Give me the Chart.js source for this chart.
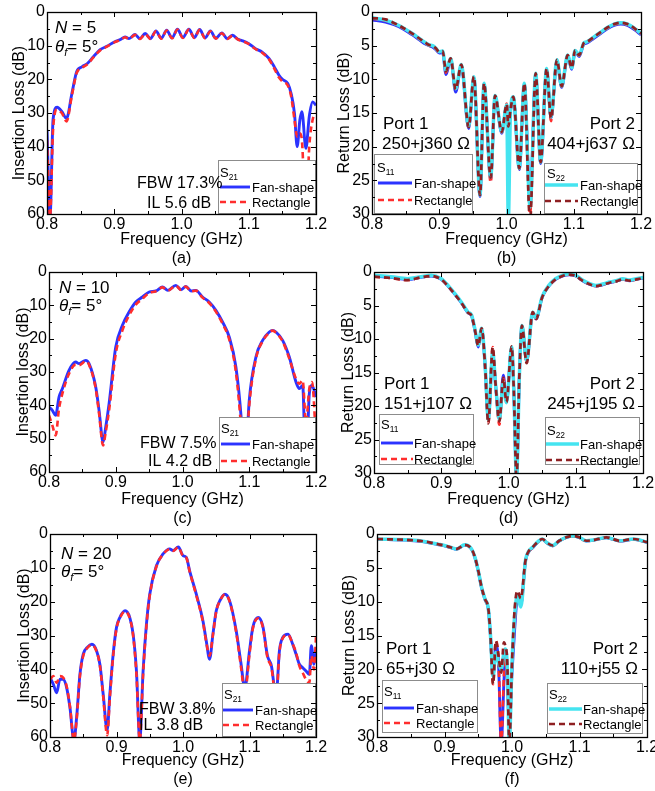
<!DOCTYPE html>
<html><head><meta charset="utf-8">
<script src="https://cdn.jsdelivr.net/npm/chart.js@4.4.1/dist/chart.umd.min.js"></script>
<style>
html,body{margin:0;padding:0;background:#fff;width:655px;height:791px;overflow:hidden;position:relative}
canvas{position:absolute}
</style></head><body>
<canvas id="ca"></canvas><canvas id="cb"></canvas>
<canvas id="cc"></canvas><canvas id="cd"></canvas>
<canvas id="ce"></canvas><canvas id="cf"></canvas>
<script>
// ---------------- DATA ----------------
const xTicks = [0.8, 0.9, 1.0, 1.1, 1.2];

// (a) N = 5, S21
const freqA = [0.800,0.8045,0.809,0.815,0.822,0.829,0.837,0.844,0.852,0.860,0.869,0.879,0.889,0.900,0.910,0.916,0.922,0.931,0.938,0.946,0.954,0.962,0.970,0.978,0.986,0.994,1.002,1.011,1.019,1.027,1.035,1.043,1.051,1.060,1.068,1.076,1.084,1.090,1.100,1.110,1.120,1.130,1.138,1.145,1.150,1.158,1.163,1.168,1.172,1.176,1.179,1.185,1.190,1.195,1.200];
const ilA_fan  = [35,61,32,28.3,29.5,31.6,24.2,17.8,16.3,15.3,13.3,11.2,10.2,8.9,8.1,7.4,7.9,6.7,7.9,6.4,7.9,5.6,7.8,5.4,7.7,5.1,7.6,5.1,7.6,5.2,7.7,5.6,7.8,6.2,7.9,6.9,8.1,8.5,9.4,10.9,11.9,13.8,16.3,18.8,20,21.2,24.2,30.1,40,32.1,29.6,40.5,31,26.7,27.7];
const ilA_rect = [38,61,35,29,30,32.5,24.8,18.2,16.6,15.5,13.5,11.4,10.3,9.0,8.2,7.5,8.0,6.8,8.0,6.5,8.0,5.7,7.9,5.5,7.8,5.2,7.7,5.2,7.7,5.3,7.8,5.7,7.9,6.3,8.0,7.0,8.2,8.6,9.5,11.0,12.1,14.0,16.8,19.5,20.6,21.8,25,32,37,36,38,61,40,32,30];

// (b) N = 5, S11 / S22
const freqB = [0.800,0.820,0.840,0.860,0.870,0.880,0.885,0.890,0.895,0.900,0.905,0.910,0.917,0.9244,0.9328,0.9437,0.9515,0.9606,0.9666,0.9765,0.983,0.993,1.0003,1.0027,1.006,1.0101,1.019,1.0265,1.035,1.0434,1.0508,1.0597,1.0662,1.075,1.082,1.091,1.097,1.102,1.108,1.115,1.120,1.130,1.140,1.150,1.160,1.170,1.180,1.190,1.200];
const rlB_s11fan  = [1.2,1.5,2.2,3.4,4.1,4.8,5.0,5.2,5.6,6.1,6.0,9.3,7.0,11.9,8.0,17.3,9.8,27.4,10.8,24.8,12.6,18.0,13.9,16.5,14.6,12.8,23.4,10.8,28,9.3,22.5,8.6,15.8,7.3,11.2,6.6,8.5,5.9,6.6,4.8,4.6,3.9,3.2,2.5,2.0,1.8,2.0,2.6,3.4];
const rlB_s11rect = [1.0,1.3,2.1,3.3,4.0,4.7,5.0,5.1,5.5,6.0,5.9,9.0,6.9,11.6,7.9,17.2,9.7,27.3,10.7,25.3,12.5,17.9,13.6,16.0,14.5,12.6,23.3,10.7,30,9.2,22.4,8.5,16.2,7.2,11.1,6.5,8.4,5.8,6.5,4.7,4.5,3.8,3.1,2.4,1.9,1.7,1.9,2.5,3.3];
const rlB_s22fan  = [0.85,1.2,2.0,3.2,3.9,4.6,4.9,5.0,5.4,5.9,5.8,8.7,6.9,11.4,7.8,17.0,9.6,27.2,10.6,24.5,12.4,17.8,13.8,31,14.5,12.6,23.2,10.6,29,9.1,22.3,8.4,15.6,7.1,11.0,6.4,8.3,5.7,6.4,4.6,4.4,3.7,3.0,2.3,1.8,1.6,1.8,2.4,3.2];
const rlB_s22rect = [0.9,1.1,2.0,3.2,3.9,4.6,4.9,5.0,5.4,5.9,5.8,8.8,6.9,11.5,7.8,17.1,9.6,27.2,10.6,24.6,12.4,17.8,13.7,17.0,14.5,12.6,23.2,10.6,31,9.1,22.3,8.4,15.8,7.1,11.0,6.4,8.3,5.7,6.4,4.6,4.4,3.7,3.0,2.3,1.8,1.6,1.8,2.4,3.2];

// (c) N = 10, S21
const freqC = [0.800,0.805,0.810,0.815,0.820,0.830,0.840,0.845,0.855,0.860,0.870,0.875,0.881,0.885,0.890,0.900,0.910,0.920,0.930,0.940,0.950,0.960,0.970,0.978,0.990,0.998,1.005,1.013,1.020,1.030,1.040,1.050,1.060,1.070,1.080,1.088,1.093,1.100,1.110,1.120,1.130,1.135,1.140,1.150,1.160,1.170,1.175,1.180,1.185,1.190,1.194,1.200];
const ilC_fan  = [40.5,41.5,43,37.5,35,29.5,27,27.5,26.5,27.5,34.5,41.5,51,46.5,39.5,22.5,16,12,9,7.5,6,5.7,4.5,5.5,4.0,5.3,4.3,5.7,5.5,7.5,9,11.5,15,19.5,28.5,44,61,38.5,25.5,20.5,18,17.5,18,20.5,25.5,33,35,34,61,36.5,34,37.5];
const ilC_rect = [43,46,49,41,36.5,30.5,27.8,28,26.8,27.8,35,42.5,52,48,41.5,24.5,17.5,13,9.8,8.0,6.3,5.8,4.6,5.6,4.1,5.4,4.4,5.8,5.6,7.7,9.3,11.9,15.5,20.2,30,47,61,40,26,20.8,18.2,17.6,18.2,20.8,26,32,33.5,32.5,45,35,33,50];

// (d) N = 10, S11 / S22
const freqD = [0.800,0.825,0.850,0.870,0.885,0.900,0.910,0.920,0.930,0.940,0.945,0.950,0.955,0.960,0.965,0.970,0.9765,0.981,0.9864,0.9923,0.997,1.0047,1.008,1.012,1.016,1.020,1.027,1.036,1.041,1.050,1.060,1.070,1.080,1.090,1.100,1.110,1.120,1.130,1.140,1.150,1.160,1.170,1.180,1.190,1.200];
const rlD_s11fan  = [0.6,0.8,1.1,0.8,0.6,1.1,2.1,3.3,4.6,6.1,6.5,8.7,11.2,8.5,13.6,22.0,12.2,17.1,22.0,15.4,19.4,11.3,18,31,16,8.1,13.3,6.1,7.0,3.8,2.1,1.1,0.6,0.4,0.6,1.3,1.8,2.1,1.9,1.6,1.4,1.1,1.3,1.1,0.9];
const rlD_s11rect = [0.7,0.9,1.2,0.8,0.6,1.1,2.1,3.3,4.6,6.1,6.5,8.6,11.0,8.4,13.8,22.5,11.2,17.2,22.8,15.8,19.4,11.2,18,31,16,8.0,13.5,6.0,7.0,3.8,2.1,1.1,0.6,0.4,0.6,1.3,1.8,2.1,1.9,1.6,1.4,1.1,1.3,1.1,0.9];
const rlD_s22fan  = [0.5,0.7,1.0,0.7,0.5,1.0,2.0,3.2,4.5,6.0,6.4,8.5,10.9,8.4,13.5,22.0,12.0,17.0,22.0,16.5,19.5,11.2,18,31,16,8.0,13.2,6.0,6.9,3.7,2.0,1.0,0.5,0.3,0.5,1.2,1.7,2.0,1.8,1.5,1.3,1.0,1.2,1.0,0.8];
const rlD_s22rect = [0.7,0.9,1.2,0.8,0.6,1.1,2.1,3.3,4.6,6.1,6.5,8.6,11.0,8.4,13.7,22.6,11.2,17.0,22.3,15.8,19.4,11.1,18,31,16,8.0,13.6,6.0,7.0,3.8,2.1,1.1,0.6,0.4,0.6,1.3,1.8,2.1,1.9,1.6,1.4,1.1,1.3,1.1,0.9];

// (e) N = 20, S21
const freqE = [0.800,0.805,0.810,0.815,0.820,0.825,0.830,0.836,0.840,0.845,0.850,0.856,0.863,0.870,0.875,0.880,0.886,0.890,0.895,0.900,0.905,0.913,0.920,0.925,0.930,0.935,0.940,0.945,0.950,0.960,0.970,0.980,0.985,0.993,1.000,1.005,1.010,1.020,1.030,1.035,1.040,1.045,1.050,1.056,1.063,1.070,1.080,1.087,1.093,1.100,1.105,1.113,1.120,1.127,1.133,1.140,1.145,1.150,1.158,1.165,1.170,1.175,1.180,1.185,1.190,1.193,1.197,1.200];
const ilE_fan  = [42.4,44.4,46.9,42.9,43,45.4,51.3,61,54.3,41.5,35.5,33.5,32.6,34.5,38.5,47.4,58,47.4,35.5,27.6,24.7,22.7,24.7,29.6,40.5,61,40.5,26.7,17.8,9.4,5.9,4.4,4.9,3.8,6.4,6.9,10.9,17.8,25.7,31.6,37,29.6,22.7,19.5,17.8,19.7,28.6,38,45.5,34.5,27.6,24.7,27.2,36,39,48,34.5,30.6,29.6,32.6,35.5,38.5,39.5,40.5,41.5,33,38.5,34.5];
const ilE_rect = [43,42,44,42,42.5,45,51,61,55,42,36,33.7,32.8,34.7,38.8,48,59.5,48.5,36,28,24.9,22.9,24.9,30,41.5,61,41.5,27.2,18.2,9.6,6.0,4.5,5.0,3.9,6.5,7.0,11.1,18.1,26,32,36,29.8,22.9,19.6,17.9,19.9,29,39,47,35.5,28,24.9,27.5,36.5,39.5,49,35,30.8,29.8,32.5,35,39,41,43,44,36,40,30.5];

// (f) N = 20, S11 / S22
const freqF = [0.800,0.850,0.870,0.890,0.900,0.910,0.918,0.930,0.940,0.945,0.950,0.955,0.960,0.965,0.968,0.972,0.976,0.980,0.984,0.988,0.990,0.993,0.996,1.000,1.004,1.008,1.013,1.020,1.025,1.030,1.040,1.045,1.052,1.060,1.070,1.080,1.090,1.100,1.110,1.120,1.140,1.160,1.180,1.200];
const rlF_s11fan  = [0.8,0.95,1.15,1.55,1.75,2.05,2.25,1.65,2.25,3.5,5.5,8.0,9.7,11.2,14.9,21,16.5,19,31,22,18,21,28,20.5,14,9.5,10.5,4.0,2.6,2.1,1.05,0.8,1.35,1.75,1.05,0.55,0.35,0.55,1.05,0.95,0.55,1.05,0.8,1.25];
const rlF_s11rect = [0.8,0.95,1.15,1.55,1.75,2.05,2.25,1.65,2.25,3.5,5.5,8.0,9.7,11.2,14.9,22.2,15.8,18.5,31,21,18,22,30,20,13,9,10.5,4.0,2.6,2.1,1.05,0.8,1.35,1.75,1.05,0.55,0.35,0.55,1.05,0.95,0.55,1.05,0.8,1.25];
const rlF_s22fan  = [0.74,0.9,1.1,1.5,1.7,2.0,2.2,1.6,2.2,3.4,5.4,7.9,9.6,11.1,14.8,21,17.5,19,20,17.5,17,19.5,31,19,12,9,10.8,3.9,2.5,2.0,1.0,0.74,1.3,1.7,1.0,0.5,0.3,0.5,1.0,0.9,0.5,1.0,0.74,1.2];
const rlF_s22rect = [0.74,0.9,1.1,1.5,1.7,2.0,2.2,1.6,2.2,3.4,5.4,7.9,9.6,11.1,14.8,22.2,15.8,18,20.5,16,16.5,19,31,19,11,8.4,9.5,3.9,2.5,2.0,1.0,0.74,1.3,1.7,1.0,0.5,0.3,0.5,1.0,0.9,0.5,1.0,0.74,1.2];

// ---------------- STYLE / LAYOUT ----------------
const FONT = '"Liberation Sans", Arial, Helvetica, sans-serif';
const COL = {blue:'#2b33ff', red:'#ff2d2d', cyan:'#45e4f0', dred:'#8e1f22'};
const CW = 340, CH = 270, XAX_H = 22;

function pts(xs, ys){ return xs.map((x,i)=>({x:x, y:ys[i]})); }
function fanDS(xs, ys, color, w, order){ return {label:'Fan-shape', data:pts(xs,ys), borderColor:color, borderWidth:w, order:order}; }
function recDS(xs, ys, color, w, order){ return {label:'Rectangle', data:pts(xs,ys), borderColor:color, borderWidth:w, borderDash:[6,4], order:order}; }

function s21Sets(xs, fan, rect){ return [fanDS(xs,fan,COL.blue,2.9,1), recDS(xs,rect,COL.red,2.6,0)]; }
function sParSets(xs, a, b, c, d){ return [fanDS(xs,a,COL.blue,2.9,3), recDS(xs,b,COL.red,2.6,2), fanDS(xs,c,COL.cyan,3.5,1), recDS(xs,d,COL.dred,2.7,0)]; }

const panels = [
 {id:'ca', cl:0, ct:0, l:47, r:316, t:12, b:214, ymax:60, ystep:10, yTitle:'Insertion Loss (dB)', yTitleX:18, label:'(a)', freqY:238, labY:257,
  sets:s21Sets(freqA, ilA_fan, ilA_rect),
  notes:[{x:55,y:27,s:17,p:[['N','i'],[' = 5','n']]},{x:55,y:46,s:17,p:[['θ','i'],['f','isub'],['= 5°','n']]},{x:137,y:182,s:16,p:[['FBW 17.3%','n']]},{x:147,y:202,s:16,p:[['IL 5.6 dB','n']]}],
  legends:[{box:[218,160,316,214], sub:'21', tx:220, ty:172, lx:[220,250], textX:252, items:[[0,187],[1,202]]}]},
 {id:'cb', cl:325, ct:0, l:372, r:641, t:12, b:214, ymax:30, ystep:5, yTitle:'Return Loss (dB)', yTitleX:343, label:'(b)', freqY:238, labY:257,
  sets:sParSets(freqB, rlB_s11fan, rlB_s11rect, rlB_s22fan, rlB_s22rect),
  notes:[{x:383,y:123,s:17,p:[['Port 1','n']]},{x:382,y:143,s:17,p:[['250+j360 Ω','n']]},{x:635,y:123,s:17,a:'right',p:[['Port 2','n']]},{x:635,y:143,s:17,a:'right',p:[['404+j637 Ω','n']]}],
  legends:[{box:[374,154,473,214], sub:'11', tx:377, ty:167, lx:[378,412], textX:414, items:[[0,183],[1,200]]},
           {box:[544,163,638,214], sub:'22', tx:547, ty:173, lx:[545,578], textX:580, items:[[2,185],[3,201]]}]},
 {id:'cc', cl:0, ct:260, l:49, r:316, t:272, b:472, ymax:60, ystep:10, yTitle:'Insertion loss (dB)', yTitleX:22, label:'(c)', freqY:498, labY:517,
  sets:s21Sets(freqC, ilC_fan, ilC_rect),
  notes:[{x:59,y:287,s:17,p:[['N','i'],[' = 10','n']]},{x:59,y:305,s:17,p:[['θ','i'],['f','isub'],['= 5°','n']]},{x:140,y:442,s:16,p:[['FBW 7.5%','n']]},{x:148,y:460,s:16,p:[['IL 4.2 dB','n']]}],
  legends:[{box:[219,417,316,472], sub:'21', tx:221, ty:428, lx:[221,250], textX:252, items:[[0,444],[1,461]]}]},
 {id:'cd', cl:325, ct:260, l:374, r:643, t:272, b:473, ymax:30, ystep:5, yTitle:'Return Loss (dB)', yTitleX:347, label:'(d)', freqY:498, labY:517,
  sets:sParSets(freqD, rlD_s11fan, rlD_s11rect, rlD_s22fan, rlD_s22rect),
  notes:[{x:384,y:383,s:17,p:[['Port 1','n']]},{x:384,y:403,s:17,p:[['151+j107 Ω','n']]},{x:635,y:383,s:17,a:'right',p:[['Port 2','n']]},{x:635,y:403,s:17,a:'right',p:[['245+j195 Ω','n']]}],
  legends:[{box:[379,414,474,465], sub:'11', tx:381, ty:424, lx:[381,413], textX:414, items:[[0,443],[1,459]]},
           {box:[545,417,640,465], sub:'22', tx:547, ty:430, lx:[546,579], textX:580, items:[[2,444],[3,460]]}]},
 {id:'ce', cl:0, ct:522, l:50, r:316, t:534, b:737, ymax:60, ystep:10, yTitle:'Insertion Loss (dB)', yTitleX:23, label:'(e)', freqY:759, labY:778,
  sets:s21Sets(freqE, ilE_fan, ilE_rect),
  notes:[{x:61,y:553,s:17,p:[['N','i'],[' = 20','n']]},{x:61,y:571,s:17,p:[['θ','i'],['f','isub'],['= 5°','n']]},{x:139,y:708,s:16,p:[['FBW 3.8%','n']]},{x:139,y:724,s:16,p:[['IL 3.8 dB','n']]}],
  legends:[{box:[222,683,316,737], sub:'21', tx:224, ty:694, lx:[223,253], textX:255, items:[[0,710],[1,725]]}]},
 {id:'cf', cl:325, ct:522, l:377, r:647, t:534, b:737, ymax:30, ystep:5, yTitle:'Return Loss (dB)', yTitleX:348, label:'(f)', freqY:759, labY:778,
  sets:sParSets(freqF, rlF_s11fan, rlF_s11rect, rlF_s22fan, rlF_s22rect),
  notes:[{x:386,y:648,s:17,p:[['Port 1','n']]},{x:386,y:668,s:17,p:[['65+j30 Ω','n']]},{x:638,y:648,s:17,a:'right',p:[['Port 2','n']]},{x:638,y:668,s:17,a:'right',p:[['110+j55 Ω','n']]}],
  legends:[{box:[382,680,478,733], sub:'11', tx:384, ty:691, lx:[384,414], textX:416, items:[[0,708],[1,723]]},
           {box:[547,683,643,734], sub:'22', tx:549, ty:694, lx:[549,582], textX:583, items:[[2,709],[3,724]]}]}
];

// ---------------- DRAW HELPERS ----------------
function setFont(ctx, size, italic){ ctx.font = (italic?'italic ':'') + size + 'px ' + FONT; }
function richWidth(ctx, parts, size){
  let w = 0;
  for (const [t,s] of parts){ const sub = s.indexOf('sub')>=0; setFont(ctx, sub?size*0.65:size, s[0]==='i'); w += ctx.measureText(t).width; }
  return w;
}
function drawRich(ctx, x, y, parts, size, align){
  const w = richWidth(ctx, parts, size);
  let cx = align==='right' ? x - w : (align==='center' ? x - w/2 : x);
  const base = y + size*0.36;
  ctx.textAlign = 'left'; ctx.textBaseline = 'alphabetic'; ctx.fillStyle = '#000';
  for (const [t,s] of parts){
    const sub = s.indexOf('sub')>=0;
    setFont(ctx, sub?size*0.65:size, s[0]==='i');
    ctx.fillText(t, cx, sub ? base + size*0.22 : base);
    cx += ctx.measureText(t).width;
  }
}

function makeDecor(P){
  return {
    id:'decor_'+P.id,
    afterDatasetsDraw(chart){
      const ctx = chart.ctx, ca = chart.chartArea, xs = chart.scales.x, ys = chart.scales.y;
      const ox = P.cl, oy = P.ct;
      ctx.save();
      // legends
      for (const lg of P.legends){
        const [x1,y1,x2,y2] = lg.box;
        ctx.setLineDash([]);
        ctx.fillStyle = '#fff';
        ctx.fillRect(x1-ox, y1-oy, x2-x1, y2-y1);
        ctx.strokeStyle = '#8c8c8c'; ctx.lineWidth = 1;
        ctx.strokeRect(x1-ox+0.5, y1-oy+0.5, x2-x1-1, y2-y1-1);
        drawRich(ctx, lg.tx-ox, lg.ty-oy, [['S','n'],[lg.sub,'sub']], 13, 'left');
        for (const [di, yy] of lg.items){
          const d = chart.data.datasets[di];
          ctx.strokeStyle = d.borderColor; ctx.lineWidth = d.borderWidth;
          ctx.setLineDash(d.borderDash || []);
          ctx.beginPath(); ctx.moveTo(lg.lx[0]-ox, yy-oy); ctx.lineTo(lg.lx[1]-ox, yy-oy); ctx.stroke();
          ctx.setLineDash([]);
          drawRich(ctx, lg.textX-ox, yy-oy, [[d.label,'n']], 13, 'left');
        }
      }
      // frame and inward ticks
      ctx.setLineDash([]);
      ctx.strokeStyle = '#000'; ctx.lineWidth = 1;
      ctx.beginPath();
      for (let k = 0; k <= 8; k++){
        const v = 0.8 + k*0.05;
        const px = Math.round(xs.getPixelForValue(v)) + 0.5;
        const len = (k%2===0) ? 5 : 3;
        ctx.moveTo(px, ca.bottom); ctx.lineTo(px, ca.bottom-len);
        ctx.moveTo(px, ca.top); ctx.lineTo(px, ca.top+len);
      }
      const nY = Math.round(P.ymax/(P.ystep/2));
      for (let k = 0; k <= nY; k++){
        const v = k*P.ystep/2;
        const py = Math.round(ys.getPixelForValue(v)) + 0.5;
        const len = (k%2===0) ? 5 : 3;
        ctx.moveTo(ca.left, py); ctx.lineTo(ca.left+len, py);
        ctx.moveTo(ca.right, py); ctx.lineTo(ca.right-len, py);
      }
      ctx.stroke();
      ctx.lineWidth = 1.3;
      ctx.strokeRect(Math.round(ca.left)+0.5, Math.round(ca.top)+0.5, Math.round(ca.right-ca.left), Math.round(ca.bottom-ca.top));
      // annotations
      for (const n of P.notes) drawRich(ctx, n.x-ox, n.y-oy, n.p, n.s, n.a || 'left');
      // axis titles and panel label
      const cx = (ca.left+ca.right)/2;
      drawRich(ctx, cx, P.freqY-oy, [['Frequency (GHz)','n']], 16, 'center');
      drawRich(ctx, cx, P.labY-oy, [[P.label,'n']], 16, 'center');
      ctx.save();
      ctx.translate(P.yTitleX-ox, (ca.top+ca.bottom)/2);
      ctx.rotate(-Math.PI/2);
      drawRich(ctx, 0, 0, [[P.yTitle,'n']], 16, 'center');
      ctx.restore();
      ctx.restore();
    }
  };
}

// ---------------- CHARTS ----------------
for (const P of panels){
  const cv = document.getElementById(P.id);
  cv.width = CW; cv.height = CH;
  cv.style.left = P.cl + 'px'; cv.style.top = P.ct + 'px';
  cv.style.width = CW + 'px'; cv.style.height = CH + 'px';
  const yW = P.l - P.cl;
  new Chart(cv, {
    type:'line',
    data:{ datasets:P.sets },
    options:{
      responsive:false, animation:false, devicePixelRatio:1,
      layout:{ padding:{ left:0, top:P.t-P.ct, right:P.cl+CW-P.r, bottom:P.ct+CH-P.b-XAX_H } },
      elements:{ point:{radius:0}, line:{cubicInterpolationMode:'monotone', fill:false} },
      plugins:{ legend:{display:false}, tooltip:{enabled:false} },
      scales:{
        x:{ type:'linear', min:0.8, max:1.2,
            afterBuildTicks(s){ s.ticks = xTicks.map(v=>({value:v})); },
            afterFit(s){ s.height = XAX_H; },
            grid:{display:false, drawTicks:false}, border:{display:false},
            ticks:{ padding:1, color:'#000', font:{family:FONT, size:16}, maxRotation:0, callback:v=>Number(v).toFixed(1) } },
        y:{ type:'linear', min:0, max:P.ymax, reverse:true,
            afterFit(s){ s.width = yW; },
            grid:{display:false, drawTicks:false}, border:{display:false},
            ticks:{ stepSize:P.ystep, padding:2, color:'#000', font:{family:FONT, size:16} } }
      }
    },
    plugins:[ makeDecor(P) ]
  });
}
</script>
</body></html>
